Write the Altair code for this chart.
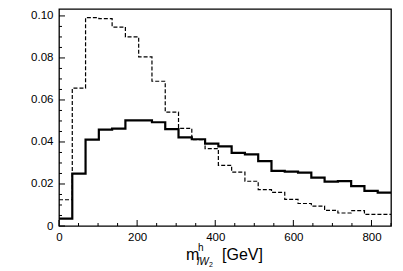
import altair as alt
import pandas as pd

# bin edges (GeV)
edges = [0, 34, 68, 102, 136, 170, 204, 238, 272, 306, 340, 374, 408, 442,
         476, 510, 544, 578, 612, 646, 680, 714, 748, 782, 816, 850]

solid = [0.0035, 0.0249, 0.0411, 0.0459, 0.0464, 0.0503, 0.0503, 0.0494,
         0.0461, 0.0422, 0.0413, 0.0392, 0.0379, 0.0348, 0.0341, 0.0309,
         0.0262, 0.0259, 0.0254, 0.0230, 0.0211, 0.0214, 0.0190, 0.0167,
         0.0159]

dashed = [0.0125, 0.0656, 0.0992, 0.0987, 0.0947, 0.0900, 0.0805, 0.0689,
          0.0542, 0.0465, 0.0411, 0.0368, 0.0289, 0.0256, 0.0213, 0.0173,
          0.0160, 0.0127, 0.0107, 0.0095, 0.0074, 0.0062, 0.0073, 0.0055,
          0.0055]

x_major = [0, 200, 400, 600, 800]
x_minor = [50, 100, 150, 250, 300, 350, 450, 500, 550, 650, 700, 750, 850]
y_major = [0.0, 0.02, 0.04, 0.06, 0.08, 0.10]
y_minor = [0.005, 0.01, 0.015, 0.025, 0.03, 0.035, 0.045, 0.05, 0.055,
           0.065, 0.07, 0.075, 0.085, 0.09, 0.095]

W, H = 332, 217
FONT = "Liberation Sans"

xs = alt.Scale(domain=[0, 850], nice=False, zero=False)
ys = alt.Scale(domain=[0, 0.1033], nice=False, zero=False)

df_s = pd.DataFrame({"x": edges, "y": solid + [solid[-1]]})
df_d = pd.DataFrame({"x": edges, "y": dashed + [dashed[-1]]})

xaxis = alt.Axis(values=x_major, tickSize=0, domain=False, grid=False,
                 labelPadding=5, title=None, labelFont=FONT, labelFontSize=11.5,
                 labelColor="black", labelFlush=False)
yaxis = alt.Axis(values=y_major, tickSize=0, domain=False, grid=False,
                 labelPadding=6, title=None, labelFont=FONT, labelFontSize=11.5,
                 labelColor="black",
                 labelExpr="datum.value == 0 ? '0' : format(datum.value, '.2f')")

X = lambda f: alt.X(f, scale=xs, axis=xaxis)
Y = lambda f: alt.Y(f, scale=ys, axis=yaxis)

dash_line = alt.Chart(df_d).mark_line(
    interpolate="step-after", color="black", strokeWidth=1.2, strokeDash=[4, 2]
).encode(x=X("x:Q"), y=Y("y:Q"))

solid_line = alt.Chart(df_s).mark_line(
    interpolate="step-after", color="black", strokeWidth=2.2
).encode(x=X("x:Q"), y=Y("y:Q"))

def yticks(vals, length):
    return alt.Chart(pd.DataFrame({"y": vals})).mark_rule(
        color="black", strokeWidth=1
    ).encode(y=Y("y:Q"), x=alt.value(0), x2=alt.value(length))

def xticks(vals, length):
    return alt.Chart(pd.DataFrame({"x": vals})).mark_rule(
        color="black", strokeWidth=1
    ).encode(x=X("x:Q"), y=alt.value(H), y2=alt.value(H - length))

def label(txt, x, y, size, style="normal"):
    return alt.Chart(pd.DataFrame({"t": [txt]})).mark_text(
        align="left", baseline="alphabetic", font=FONT, fontSize=size,
        fontStyle=style, color="black"
    ).encode(x=alt.value(x), y=alt.value(y), text="t:N")

chart = alt.layer(
    dash_line, solid_line,
    yticks(y_major, 6), yticks(y_minor, 3),
    xticks(x_major, 6), xticks(x_minor, 3),
    label("m", 127, 251, 16),
    label("h", 139, 242, 10),
    label("lW", 138, 256, 10, "italic"),
    label("2", 150, 258, 7),
    label("[GeV]", 163, 251, 16),
).properties(
    width=W, height=H,
    autosize=alt.AutoSizeParams(type="none"),
    padding={"left": 51, "top": 1, "right": 4, "bottom": 43},
).configure_view(stroke="black", strokeWidth=1.3)

chart.save("out.html", embed_options={"renderer": "svg", "actions": False})
